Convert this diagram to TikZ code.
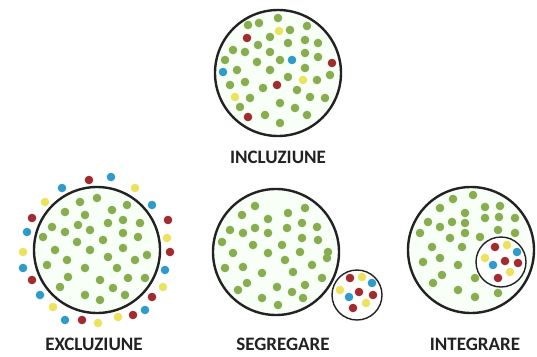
\documentclass[tikz,border=0pt]{standalone}
\usepackage{xcolor}
\usepackage{fontspec}
\setmainfont{Carlito}
\usetikzlibrary{positioning}
\definecolor{dotgreen}{HTML}{86AE4E}
\definecolor{dotred}{HTML}{A12B2E}
\definecolor{dotblue}{HTML}{2E9BCB}
\definecolor{dotyellow}{HTML}{ECE35C}
\definecolor{darkgray}{HTML}{222222}

\begin{document}
\begin{tikzpicture}[
  x=1pt, y=-1pt,
  ring/.style={circle, draw=darkgray, line width=2.4pt, fill=green!3, minimum size=126pt, inner sep=0pt},
  smallring/.style={circle, draw=darkgray, line width=1.4pt, fill=white, minimum size=50pt, inner sep=0pt},
  tag/.style={font=\fontsize{19}{19}\selectfont\bfseries, text=darkgray, inner sep=0pt, anchor=north},
  node distance=14pt,
]
\useasboundingbox (0,0) rectangle (537,356);

% circles
\node[ring] (incl) at (278,73) {};
\node[ring] (excl) at (97,250) {};
\node[ring] (segr) at (276,252) {};
\node[ring] (integ) at (471,250) {};
\node[smallring] (segrmin) at (357,295) {};
\node[smallring] (integmin) at (501,262) {};

% labels
\node[tag, below=14pt of incl] (lincl) {INCLUZIUNE};
\node[tag, below=24pt of excl, xshift=-3pt] (lexcl) {EXCLUZIUNE};
\node[tag, below=22pt of segr, xshift=7pt] (lsegr) {SEGREGARE};
\node[tag, below=24pt of integ, xshift=4pt] (linteg) {INTEGRARE};

% incluziune
\foreach \x/\y in {278/18,248/25,259/23,290/30,307/26,270/37,258/45,288/43,305/40,318/43,
  233/50,245/52,270/52,280/60,305/53,318/57,225/60,257/62,237/70,270/70,305/68,288/77,
  317/80,330/75,230/85,245/82,263/88,297/90,250/98,280/103,310/97,325/98,240/107,
  265/115,295/108,307/115,280/123}
  \fill[dotgreen] (\x,\y) circle (4.3pt);
\foreach \x/\y/\c in {279/31/dotyellow,247/38/dotred,292/60/dotblue,332/63/dotred,
  223/72/dotblue,303/80/dotyellow,277/85/dotred,235/97/dotyellow,248/117/dotred}
  \fill[\c] (\x,\y) circle (4.3pt);

% excluziune
\foreach \x/\y in {80/202,97/198,112/210,127/205,65/212,85/215,52/227,65/232,78/225,
  90/230,108/223,123/220,140/223,43/237,77/242,103/240,123/233,138/237,55/250,90/250,
  108/257,123/248,147/255,47/265,67/260,85/268,117/268,135/260,68/277,100/280,128/278,
  145/278,60/287,113/288,85/295,100/300,125/295}
  \fill[dotgreen] (\x,\y) circle (4.3pt);
\foreach \x/\y/\c in {89/180/dotred,111/177/dotblue,62/188/dotblue,135/188/dotyellow,
  45/202/dotyellow,152/205/dotblue,32/218/dotred,168/220/dotred,27/232/dotblue,
  167/238/dotyellow,23/252/dotyellow,170/252/dotred,23/268/dotblue,165/270/dotblue,
  32/280/dotred,163/287/dotyellow,40/295/dotblue,152/297/dotred,53/307/dotyellow,
  145/310/dotblue,65/320/dotblue,82/320/dotred,98/323/dotyellow,118/317/dotyellow,
  133/315/dotred}
  \fill[\c] (\x,\y) circle (4.3pt);

% segregare
\foreach \x/\y in {255/206,242/215,268/219,288/213,305/208,230/230,243/233,255/228,
  268/233,287/228,302/223,317/227,222/242,253/245,282/245,302/238,318/240,233/253,
  268/253,300/252,328/252,327/258,225/268,243/267,285/260,312/265,262/273,293/272,
  322/278,247/283,277/287,305/285,238/290,262/298,292/292,303/298,278/305}
  \fill[dotgreen] (\x,\y) circle (4.3pt);
\foreach \x/\y/\c in {350/278/dotred,362/277/dotyellow,372/283/dotblue,340/290/dotyellow,
  359/292/dotred,373/295/dotred,349/297/dotblue,366/303/dotyellow,353/308/dotred}
  \fill[\c] (\x,\y) circle (4.3pt);

% integrare
\foreach \x/\y in {453/199,473/195,440/208,465/213,485/207,500/206,428/222,440/227,
  452/222,465/223,485/218,499/217,515/218,420/233,450/238,465/233,480/237,498/230,
  515/233,432/247,462/247,423/262,440/258,458/265,442/275,433/283,475/278,458/290,
  475/297,498/293}
  \fill[dotgreen] (\x,\y) circle (4.3pt);
\foreach \x/\y/\c in {495/247/dotred,507/245/dotyellow,517/252/dotblue,485/258/dotyellow,
  505/261/dotred,518/263/dotred,493/265/dotblue,510/272/dotyellow,498/278/dotred}
  \fill[\c] (\x,\y) circle (4.3pt);
\end{tikzpicture}
\end{document}
